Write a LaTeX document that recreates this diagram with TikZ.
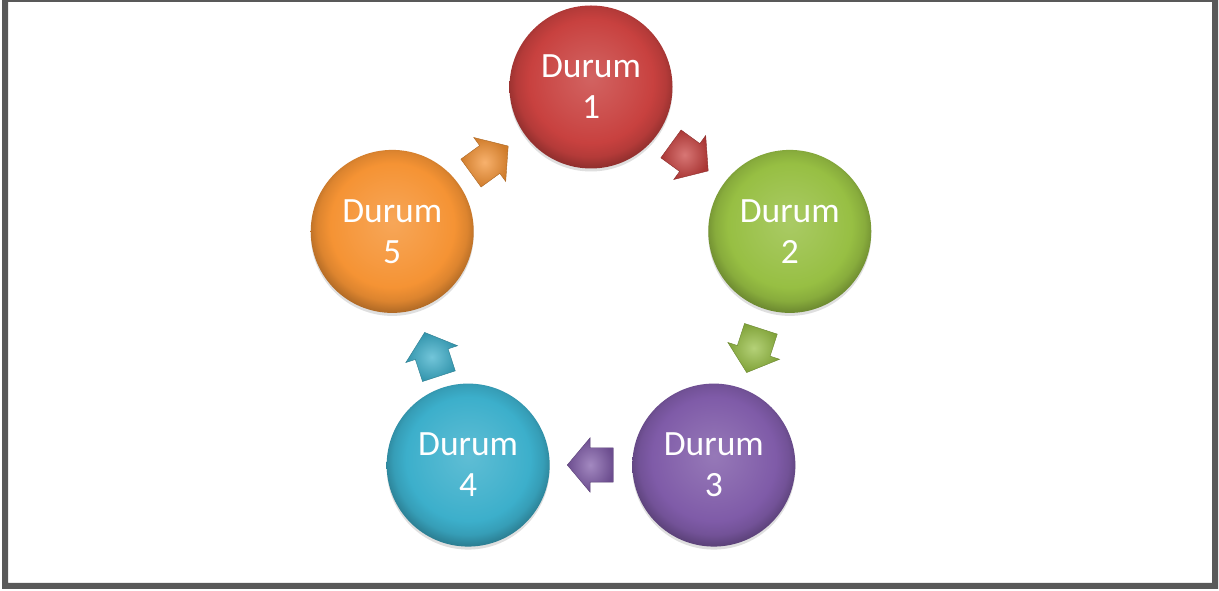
\documentclass[tikz,border=0pt]{standalone}
\usepackage{fontspec}
\setmainfont{Carlito}
\usetikzlibrary{shapes.arrows,shadows,calc}

\definecolor{frameGray}{HTML}{595959}
\definecolor{cRed}{HTML}{C8413F}
\definecolor{cGreen}{HTML}{97BF43}
\definecolor{cPurple}{HTML}{7F5BA8}
\definecolor{cAqua}{HTML}{3CAFCB}
\definecolor{cOrange}{HTML}{F59334}

% glossy ball shading: light centre, flat body, dark bevelled rim (heavier at the bottom)
\newcommand\declareball[2]{%
  \pgfdeclareradialshading{ball#1}{\pgfpoint{0bp}{3bp}}{%
    color(0bp)=(#2!82!white);
    color(13bp)=(#2!94!white);
    color(19bp)=(#2);
    color(23bp)=(#2!90!black);
    color(28bp)=(#2!62!black);
    color(50bp)=(#2!62!black)}}
\declareball{R}{cRed}
\declareball{G}{cGreen}
\declareball{P}{cPurple}
\declareball{A}{cAqua}
\declareball{O}{cOrange}

\tikzset{
  state/.style={circle, minimum size=163pt, inner sep=0pt, align=center,
    text=white, font=\fontsize{35.5}{41}\selectfont,
    drop shadow={shadow xshift=0pt, shadow yshift=-3pt, opacity=0.25}},
  flow/.style={single arrow, minimum height=46pt, text height=17pt, text depth=17pt,
    single arrow head extend=10pt, single arrow tip angle=100, inner sep=0pt,
    draw=#1!70!black, line width=0.4pt,
    inner color=#1!72!white, outer color=#1!85!black}
}

\begin{document}
\begin{tikzpicture}[x=1pt,y=1pt]
  \useasboundingbox (0,0) rectangle (1219,591);
  \fill[white] (0,0) rectangle (1219,591);
  % frame
  \fill[frameGray, even odd rule] (2,2) rectangle (1218,591) (8,8) rectangle (1212,589);

  \coordinate (c) at (591,295);

  % states on a pentagon
  \node[state, shading=ballR] (d1) at ($(c)+(90:209)$) {Durum\\1};
  \node[state, shading=ballG] (d2) at ($(c)+(18:209)$) {Durum\\2};
  \node[state, shading=ballP] (d3) at ($(c)+(-54:209)$) {Durum\\3};
  \node[state, shading=ballA] (d4) at ($(c)+(-126:209)$) {Durum\\4};
  \node[state, shading=ballO] (d5) at ($(c)+(-198:209)$) {Durum\\5};

  % clockwise block arrows between the states (node centre sits 6.5pt behind the arrow's middle)
  \node[flow=cRed, rotate=-36] (a1) at ($(689,434)+(144:6.5)$) {};
  \node[flow=cGreen, rotate=-108] (a2) at ($(754,241)+(72:6.5)$) {};
  \node[flow=cPurple, rotate=180] (a3) at ($(591,126)+(0:6.5)$) {};
  \node[flow=cAqua, rotate=108] (a4) at ($(432,236)+(-72:6.5)$) {};
  \node[flow=cOrange, rotate=36] (a5) at ($(489,431)+(-144:6.5)$) {};
\end{tikzpicture}
\end{document}
